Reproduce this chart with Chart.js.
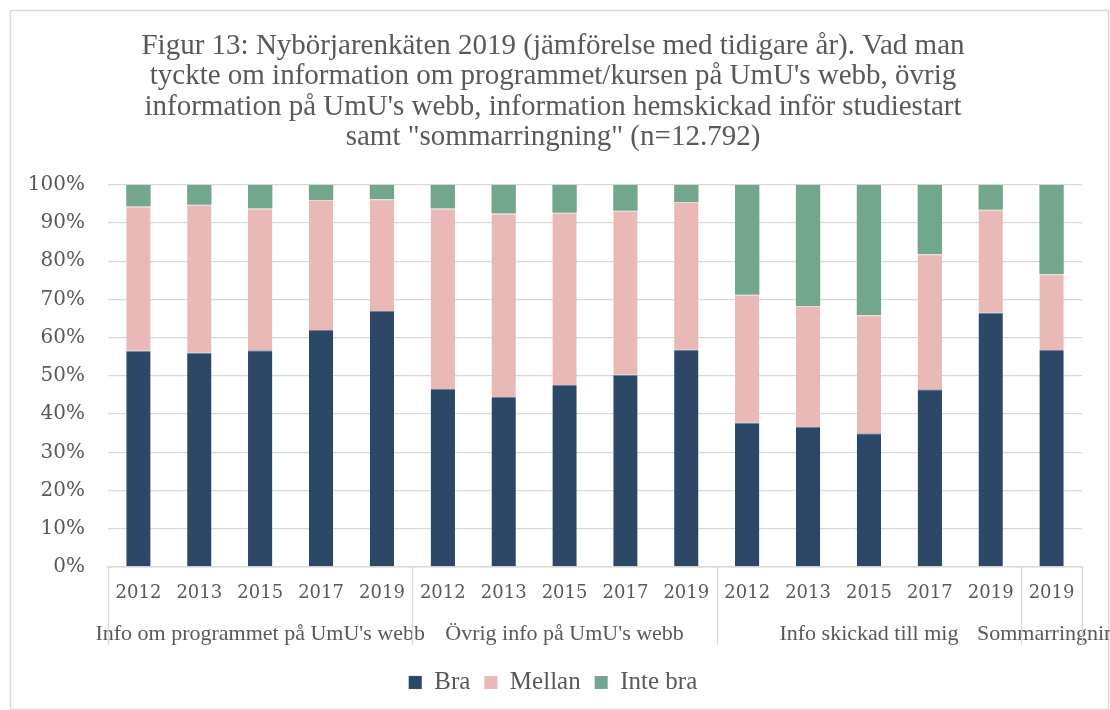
<!DOCTYPE html>
<html>
<head>
<meta charset="utf-8">
<script src="https://cdn.jsdelivr.net/npm/chart.js@4.4.0/dist/chart.umd.min.js"></script>
<style>
  html, body { margin: 0; padding: 0; background: #fff; }
  #wrap { position: relative; width: 1110px; height: 710px; }
</style>
</head>
<body>
<div id="wrap"><canvas id="myChart" width="1110" height="710"></canvas></div>
<script>
// data
const years = ['2012', '2013', '2015', '2017', '2019', '2012', '2013', '2015', '2017', '2019', '2012', '2013', '2015', '2017', '2019', '2019'];
const groupNames = ["Info om programmet på UmU's webb", "Övrig info på UmU's webb", 'Info skickad till mig', 'Sommarringning'];
const groupSizes = [5, 5, 5, 1];
const bra = [56.6, 56.1, 56.7, 62.0, 67.0, 46.6, 44.5, 47.6, 50.3, 56.9, 37.8, 36.6, 35.0, 46.5, 66.6, 56.8];
const mellan = [37.7, 38.7, 37.1, 34.0, 29.2, 47.2, 48.0, 45.1, 42.9, 38.6, 33.4, 31.7, 30.9, 35.3, 26.9, 19.8];
const inteBra = [5.7, 5.2, 6.2, 4.0, 3.8, 6.2, 7.5, 7.3, 6.8, 4.5, 28.8, 31.7, 34.1, 18.2, 6.5, 23.4];
const yTicks = [0, 10, 20, 30, 40, 50, 60, 70, 80, 90, 100];
const titleLines = [
    'Figur 13: Nybörjarenkäten 2019 (jämförelse med tidigare år). Vad man',
    "tyckte om information om programmet/kursen på UmU's webb, övrig",
    "information på UmU's webb, information hemskickad inför studiestart",
    'samt "sommarringning" (n=12.792)'
];

const textColor = '#595959';
const gridColor = '#d9d9d9';
const serif = "'Liberation Serif', serif";
const numFont = "'DejaVu Serif', serif";

// frame round the chart + group labels under the years
const groupAxis = {
    id: 'groupAxis',
    beforeDraw(chart) {
        const ctx = chart.ctx;
        ctx.save();
        ctx.strokeStyle = gridColor;
        ctx.lineWidth = 1.5;
        ctx.strokeRect(10.5, 10.5, chart.width - 12, chart.height - 11);
        ctx.restore();
    },
    afterDraw(chart) {
        const ctx = chart.ctx;
        const x = chart.scales.x;
        const top = x.top;
        const half = (x.getPixelForValue(1) - x.getPixelForValue(0)) / 2;
        ctx.save();
        ctx.strokeStyle = gridColor;
        ctx.lineWidth = 1.3;
        ctx.fillStyle = textColor;
        ctx.font = '22px ' + serif;
        ctx.textAlign = 'center';
        ctx.textBaseline = 'middle';
        let start = 0;
        const edges = [x.left];
        groupSizes.forEach((n, g) => {
            const end = start + n - 1;
            const left = x.getPixelForValue(start) - half;
            const right = x.getPixelForValue(end) + half;
            edges.push(right);
            ctx.fillText(groupNames[g], (left + right) / 2, top + 67);
            start += n;
        });
        edges.forEach(px => {
            ctx.beginPath();
            ctx.moveTo(Math.round(px) + 0.5, top);
            ctx.lineTo(Math.round(px) + 0.5, top + 78);
            ctx.stroke();
        });
        ctx.restore();
    }
};

const ctx = document.getElementById('myChart').getContext('2d');

const data = {
    labels: years,
    datasets: [
        { label: 'Bra', data: bra, backgroundColor: '#2c4866', borderColor: '#6f8297', borderWidth: { top: 1 } },
        { label: 'Mellan', data: mellan, backgroundColor: '#e9b9b7', borderColor: '#f3d6d5', borderWidth: { top: 1 } },
        { label: 'Inte bra', data: inteBra, backgroundColor: '#72a78d', borderColor: '#9cc2af', borderWidth: 0 },
    ]
};

new Chart(ctx, {
    type: 'bar',
    data,
    options: {
        responsive: false,
        animation: false,
        events: [],
        layout: { padding: { left: 24, right: 28, top: 0, bottom: 5 } },
        datasets: { bar: { categoryPercentage: 1, barPercentage: 0.4 } },
        scales: {
            x: {
                stacked: true,
                grid: { display: false, drawTicks: false },
                border: { display: true, color: gridColor, width: 1.5 },
                ticks: { color: textColor, font: { family: numFont, size: 18 }, padding: 16, maxRotation: 0, autoSkip: false },
                afterFit(scale) { scale.height = 89; }
            },
            y: {
                stacked: true,
                min: 0,
                max: 100,
                afterBuildTicks(scale) { scale.ticks = yTicks.map(v => ({ value: v })); },
                grid: { color: gridColor, lineWidth: 1.3, drawTicks: false },
                border: { display: false },
                ticks: { color: textColor, font: { family: numFont, size: 20 }, padding: 23, callback: v => v + '%' },
                afterFit(scale) { scale.width = 84; }
            }
        },
        plugins: {
            title: {
                display: true,
                text: titleLines,
                color: textColor,
                font: { family: serif, size: 29, weight: 'normal', lineHeight: 1.05 },
                padding: { top: 31, bottom: 32 }
            },
            legend: {
                position: 'bottom',
                labels: {
                    color: textColor,
                    font: { family: serif, size: 25 },
                    boxWidth: 13,
                    boxHeight: 13,
                    padding: 14,
                    useBorderRadius: false
                }
            },
            tooltip: { enabled: false }
        }
    },
    plugins: [groupAxis]
});
</script>
</body>
</html>
